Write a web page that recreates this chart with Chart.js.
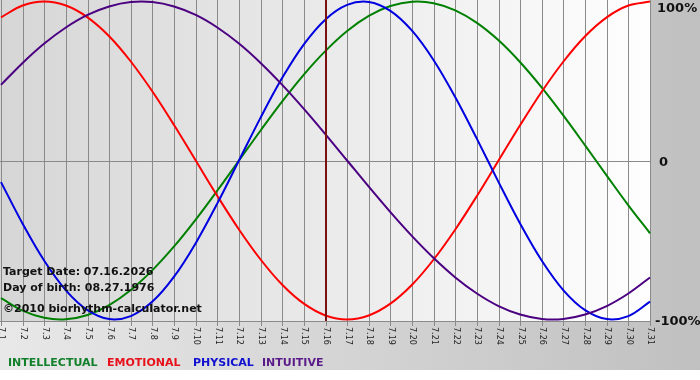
<!DOCTYPE html>
<html><head><meta charset="utf-8">
<script src="https://cdn.jsdelivr.net/npm/chart.js@4/dist/chart.umd.min.js"></script>
<style>html,body{margin:0;padding:0;background:#fff}#wrap{width:700px;height:380px;position:relative}</style>
</head><body><div id="wrap"><canvas id="c" width="700" height="380"></canvas></div>
<script>
const categories = ['7.1','7.2','7.3','7.4','7.5','7.6','7.7','7.8','7.9','7.10','7.11','7.12','7.13','7.14','7.15','7.16','7.17','7.18','7.19','7.20','7.21','7.22','7.23','7.24','7.25','7.26','7.27','7.28','7.29','7.30','7.31'];
const intellectual = [-86.6,-94.5,-99.0,-99.9,-97.2,-91.0,-81.5,-69.0,-54.1,-37.2,-18.9,0,18.9,37.2,54.1,69.0,81.5,91.0,97.2,99.9,99.0,94.5,86.6,75.6,61.8,45.8,28.2,9.5,-9.5,-28.2,-45.8];
const emotional = [90.1,97.5,100,97.5,90.1,78.2,62.3,43.4,22.3,0,-22.3,-43.4,-62.3,-78.2,-90.1,-97.5,-100,-97.5,-90.1,-78.2,-62.3,-43.4,-22.3,0,22.3,43.4,62.3,78.2,90.1,97.5,100];
const physical = [-13.6,-39.8,-63.1,-81.7,-94.2,-99.8,-97.9,-88.8,-73.1,-52.0,-27.0,0,27.0,52.0,73.1,88.8,97.9,99.8,94.2,81.7,63.1,39.8,13.6,-13.6,-39.8,-63.1,-81.7,-94.2,-99.8,-97.9,-88.8];
const intuitive = [47.6,61.4,73.6,83.7,91.6,96.9,99.7,99.7,96.9,91.6,83.7,73.6,61.4,47.6,32.5,16.5,0,-16.5,-32.5,-47.6,-61.4,-73.6,-83.7,-91.6,-96.9,-99.7,-99.7,-96.9,-91.6,-83.7,-73.6];
const yTicks = [100, 0, -100];
const yTickLabels = ['100%', '0', '-100%'];
const targetDay = '7.16';
const infoLines = ['Target Date: 07.16.2026', 'Day of birth: 08.27.1976', '\u00A92010 biorhythm-calculator.net'];
const seriesNames = ['INTELLECTUAL', 'EMOTIONAL', 'PHYSICAL', 'INTUITIVE'];

const lineColors = ['#008000', '#ff0000', '#0000e0', '#4b0082'];
const legendColors = ['#12802a', '#e8101a', '#1010d0', '#5a1a8a'];
const legendX = [8, 107, 193, 262];

const decor = {
  id: 'decor',
  beforeDraw(chart) {
    const ctx = chart.ctx, W = chart.width, H = chart.height, a = chart.chartArea;
    ctx.save();
    let g = ctx.createLinearGradient(0, 0, W, 0);
    g.addColorStop(0, '#e8e8e8'); g.addColorStop(1, '#c0c0c0');
    ctx.fillStyle = g; ctx.fillRect(0, 0, W, H);
    ctx.fillStyle = '#ffffff'; ctx.fillRect(0, 370, W, H - 370);
    g = ctx.createLinearGradient(0, 0, a.right, 0);
    g.addColorStop(0, '#d6d6d6'); g.addColorStop(1, '#fefefe');
    ctx.fillStyle = g; ctx.fillRect(0, 0, a.right + 1, a.bottom);
    ctx.restore();
  },
  beforeDatasetsDraw(chart) {
    const ctx = chart.ctx, a = chart.chartArea, xs = chart.scales.x, ys = chart.scales.y;
    ctx.save();
    ctx.strokeStyle = '#8a8a8a'; ctx.lineWidth = 1;
    ctx.beginPath();
    categories.forEach((c, i) => {
      const x = Math.round(xs.getPixelForValue(i)) + 0.5;
      ctx.moveTo(x, 0); ctx.lineTo(x, a.bottom + 5);
    });
    const y0 = Math.round(ys.getPixelForValue(0)) + 0.5;
    ctx.moveTo(0, y0); ctx.lineTo(a.right + 1, y0);
    ctx.moveTo(0, a.bottom + 0.5); ctx.lineTo(a.right + 1, a.bottom + 0.5);
    ctx.stroke();
    ctx.restore();
  },
  afterDatasetsDraw(chart) {
    const ctx = chart.ctx, a = chart.chartArea, xs = chart.scales.x, ys = chart.scales.y;
    ctx.save();
    const tx = xs.getPixelForValue(categories.indexOf(targetDay));
    ctx.strokeStyle = '#7a1010'; ctx.lineWidth = 2;
    ctx.beginPath(); ctx.moveTo(Math.round(tx), 0); ctx.lineTo(Math.round(tx), a.bottom); ctx.stroke();
    // x tick labels, rotated clockwise
    ctx.fillStyle = '#222'; ctx.font = '8px "DejaVu Sans"';
    ctx.textAlign = 'left'; ctx.textBaseline = 'middle';
    categories.forEach((c, i) => {
      const x = xs.getPixelForValue(i);
      ctx.save(); ctx.translate(x + 0.5, a.bottom + 6); ctx.rotate(Math.PI / 2);
      ctx.fillText(c, 0, 0); ctx.restore();
    });
    // y labels on the right
    ctx.fillStyle = '#111'; ctx.font = 'bold 13px "DejaVu Sans"';
    yTicks.forEach((v, i) => {
      const y = ys.getPixelForValue(v);
      const x = v === 0 ? 659 : (v < 0 ? 655 : 657);
      if (v > 0) { ctx.textBaseline = 'top'; ctx.fillText(yTickLabels[i], x, 2); }
      else { ctx.textBaseline = 'middle'; ctx.fillText(yTickLabels[i], x, y + 2); }
    });
    // info text
    ctx.font = 'bold 11px "DejaVu Sans"'; ctx.textBaseline = 'alphabetic'; ctx.fillStyle = '#111';
    ctx.fillText(infoLines[0], 3, 275);
    ctx.fillText(infoLines[1], 3, 291);
    ctx.fillText(infoLines[2], 3, 312);
    // legend
    seriesNames.forEach((n, i) => {
      ctx.fillStyle = legendColors[i];
      ctx.fillText(n, legendX[i], 366);
    });
    ctx.restore();
  }
};

const mk = (label, data, color) => ({
  label, data, borderColor: color, backgroundColor: color, borderWidth: 2,
  pointRadius: 0, tension: 0.35, fill: false
});

new Chart(document.getElementById('c'), {
  type: 'line',
  data: {
    labels: categories,
    datasets: [
      mk(seriesNames[3], intuitive, lineColors[3]),
      mk(seriesNames[2], physical, lineColors[2]),
      mk(seriesNames[1], emotional, lineColors[1]),
      mk(seriesNames[0], intellectual, lineColors[0])
    ]
  },
  options: {
    responsive: false, animation: false, devicePixelRatio: 1,
    layout: { padding: { left: 1, right: 50, top: 0, bottom: 59 } },
    plugins: { legend: { display: false }, tooltip: { enabled: false } },
    scales: {
      x: { display: false, offset: false },
      y: { display: false, min: -101, max: 101 }
    }
  },
  plugins: [decor]
});
</script></body></html>
